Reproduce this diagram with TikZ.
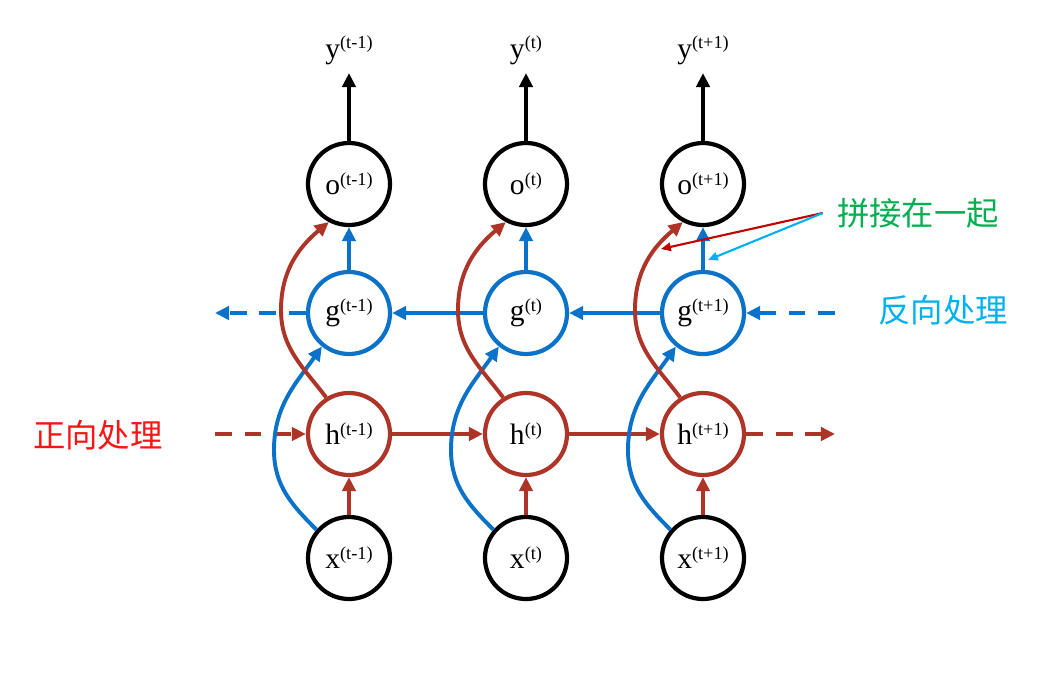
\documentclass[tikz,border=0pt]{standalone}
\usepackage{fontspec}
\setmainfont{Liberation Serif}
\newfontfamily\cjk{Noto Sans CJK SC}
\usetikzlibrary{arrows.meta}
\definecolor{rnnred}{RGB}{174,52,40}
\definecolor{rnnblue}{RGB}{10,114,200}
\definecolor{lblred}{RGB}{250,20,20}
\definecolor{lblcyan}{RGB}{0,176,240}
\definecolor{lblgreen}{RGB}{0,176,80}
\definecolor{annred}{RGB}{192,0,0}
\newcommand\tsup[1]{\raisebox{6.5pt}{\fontsize{13}{14}\selectfont #1}}
\begin{document}
\begin{tikzpicture}[x=0.025cm,y=-0.025cm,
  unit/.style={circle,line width=3pt,minimum size=2.05cm,inner sep=0pt,
    font=\fontsize{21}{24}\selectfont},
  lab/.style={font=\fontsize{21}{24}\selectfont,inner sep=0pt},
  arr/.style={-{Triangle[length=10pt,width=9.5pt]}},
  kline/.style={draw=black,line width=2.9pt},
  rline/.style={draw=rnnred,line width=2.8pt},
  bline/.style={draw=rnnblue,line width=2.8pt},
  dsh/.style={dash pattern=on 12pt off 9pt},
  cjklab/.style={font=\cjk\fontsize{23}{26}\selectfont,inner sep=0pt},
  ann/.style={line width=1.5pt,-{Triangle[length=7pt,width=6pt]}}]
\useasboundingbox (0,0) rectangle (1054,685);

\foreach \i/\c/\s in {1/349/{(t-1)},2/526/{(t)},3/703/{(t+1)}}{
  \node[unit,draw=black] (o\i) at (\c,184) {o\tsup{\s}};
  \node[unit,draw=rnnblue] (g\i) at (\c,313) {g\tsup{\s}};
  \node[unit,draw=rnnred] (h\i) at (\c,434) {h\tsup{\s}};
  \node[unit,draw=black] (x\i) at (\c,558) {x\tsup{\s}};
  \node[lab,anchor=base] (y\i) at (\c,58) {y\tsup{\s}};
}

% dashed ends
\coordinate (gl) at (215,313);
\coordinate (gr) at (835,313);
\coordinate (hl) at (215,434);
\coordinate (hr) at (835,434);

% blue horizontal (backward)
\draw[bline,arr] (g2) -- (g1);
\draw[bline,arr] (g3) -- (g2);
\draw[bline,arr,dsh] (gr) -- (g3);
\draw[bline,arr,dsh] (g1) -- (gl);

% red horizontal (forward)
\draw[rline,arr] (h1) -- (h2);
\draw[rline,arr] (h2) -- (h3);
\draw[rline,arr,dsh] (hl) -- (h1);
\draw[rline,arr,dsh] (h3) -- (hr);

\foreach \i/\c in {1/349,2/526,3/703}{
  \draw[kline,arr,shorten >=6pt] (o\i) -- (y\i.south);
  \draw[bline,arr] (g\i) -- (o\i);
  \draw[rline,arr] (x\i) -- (h\i);
  \draw[bline,arr] (x\i.139) to[out=135,in=-90] (\c-75,450)
     to[out=90,in=-125] (g\i.231);
  \draw[rline,arr] (h\i.122) to[out=127,in=-90] (\c-68,310)
     to[out=90,in=-140] (o\i.242);
}

% labels
\node[cjklab,text=lblred] (fwd) at (98,435) {正向处理};
\node[cjklab,text=lblcyan] (bwd) at (943,310) {反向处理};
\node[cjklab,text=lblgreen] (cat) at (918,213) {拼接在一起};
\coordinate (catr) at (661,249);
\coordinate (catb) at (708,260);
\draw[ann,annred] ([xshift=-10pt]cat.west) -- (catr);
\draw[ann,lblcyan] ([xshift=-10pt]cat.west) -- (catb);
\end{tikzpicture}
\end{document}
